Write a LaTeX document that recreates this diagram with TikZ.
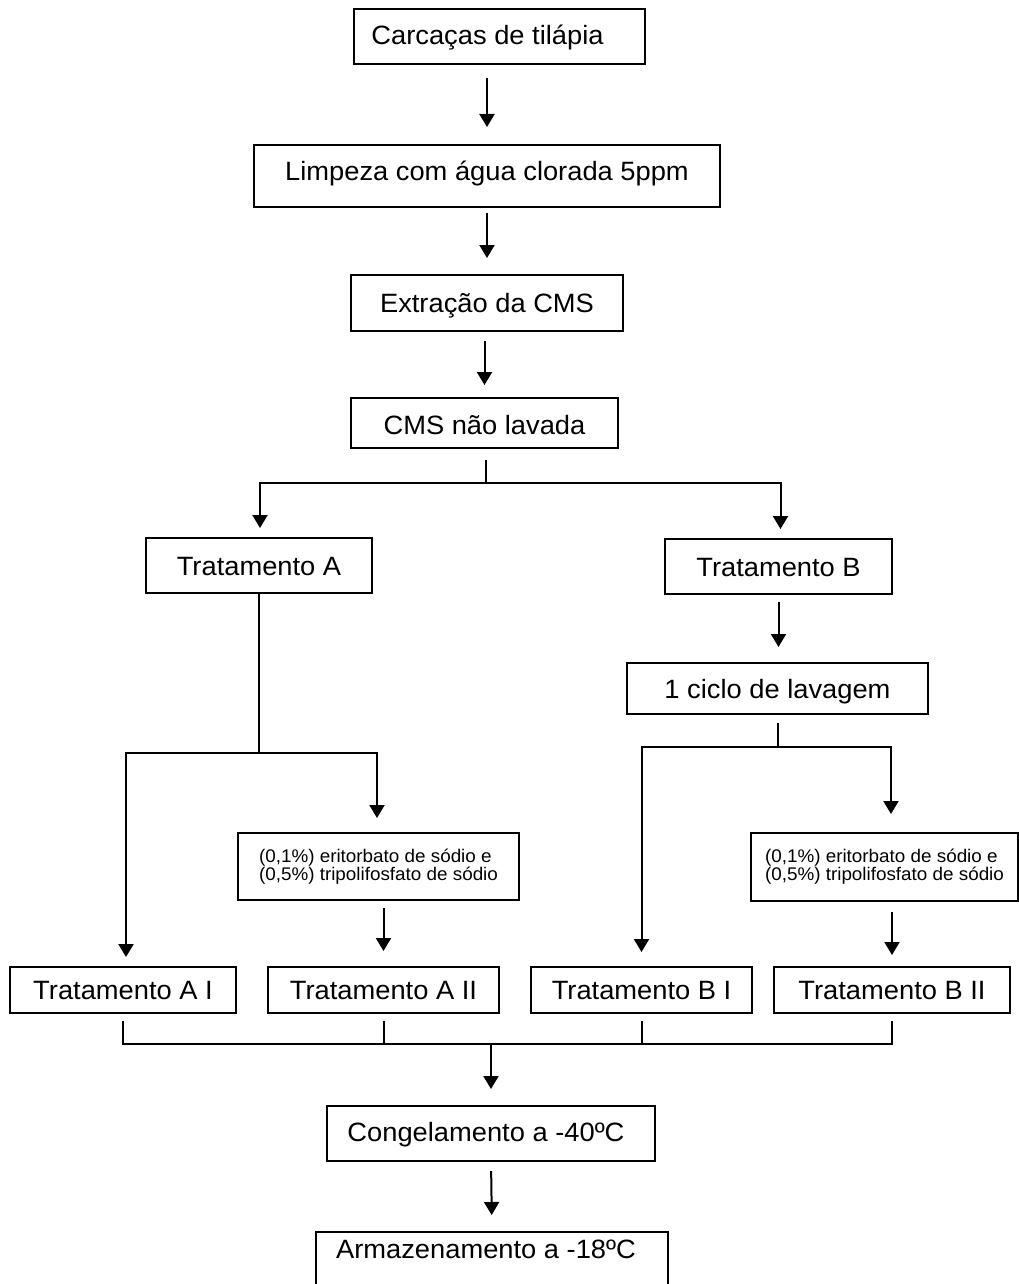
\documentclass[tikz,border=0pt]{standalone}
\usepackage{fontspec}
\setmainfont{Liberation Sans}[FakeStretch=1.03]
\usetikzlibrary{arrows.meta}
\begin{document}
\begin{tikzpicture}[x=1pt,y=-1pt,
  box/.style={draw, line width=2pt, inner sep=0pt, outer sep=0pt,
    font=\fontsize{26.5}{30}\selectfont, text height=19pt, text depth=0pt},
  smallbox/.style={draw, line width=2pt, inner sep=0pt, outer sep=0pt,
    font=\fontsize{18.3}{18}\selectfont, align=left},
  conn/.style={line width=2pt},
  arr/.style={line width=2pt, -{Triangle[width=15pt,length=13pt]}}]
\useasboundingbox (0,0) rectangle (1019,1284);
\clip (0,0) rectangle (1019,1284);

% boxes
\node[box, minimum width=291pt, minimum height=55pt, text height=17pt] (n1) at (499.5,36.5) {Carcaças de tilápia\kern24pt};
\node[box, minimum width=466pt, minimum height=62pt, text height=9pt] (n2) at (487,176) {Limpeza com água clorada 5ppm};
\node[box, minimum width=272pt, minimum height=56pt, text height=18pt] (n3) at (487,303) {Extração da CMS};
\node[box, minimum width=267pt, minimum height=50pt, text height=23pt] (n4) at (484.5,423) {CMS não lavada};
\node[box, minimum width=226pt, minimum height=55pt] (nA) at (259,565.5) {Tratamento A};
\node[box, minimum width=227pt, minimum height=55pt] (nB) at (778.5,566.5) {Tratamento B};
\node[box, minimum width=301pt, minimum height=51pt] (nC) at (777.5,688.5) {1 ciclo de lavagem};
\node[smallbox, minimum width=281pt, minimum height=67pt] (nEA) at (378.5,866.5) {(0,1\%) eritorbato de sódio e\\(0,5\%) tripolifosfato de sódio};
\node[smallbox, minimum width=267pt, minimum height=68pt] (nEB) at (884.5,867) {(0,1\%) eritorbato de sódio e\\(0,5\%) tripolifosfato de sódio};
\node[box, minimum width=226pt, minimum height=46pt] (nAI) at (123,990) {Tratamento A I};
\node[box, minimum width=231pt, minimum height=46pt] (nAII) at (383.5,990) {Tratamento A II};
\node[box, minimum width=221pt, minimum height=46pt] (nBI) at (641.5,990) {Tratamento B I};
\node[box, minimum width=236pt, minimum height=46pt] (nBII) at (892,990) {Tratamento B II};
\node[box, minimum width=328pt, minimum height=55pt, text height=15pt] (nCong) at (491,1133.5) {Congelamento a -40ºC\kern10pt};
\node[box, minimum width=352pt, minimum height=58pt, text height=17pt, text depth=23pt] (nArm) at (492,1261) {Armazenamento a -18ºC\kern12pt};

% junctions
\coordinate (j1) at (486,483);
\coordinate (jA) at (259,753);
\coordinate (jB) at (777.5,747);
\coordinate (jC) at (491,1044);

% connectors
\draw[arr, shorten <=14pt, shorten >=18pt] (n1.south -| n2.north) -- (n2.north);
\draw[arr, shorten <=6pt, shorten >=17pt] (n2.south) -- (n3.north);
\draw[arr, shorten <=10pt, shorten >=13pt] (n3.south -| n4.north) -- (n4.north);

\draw[conn, shorten <=12pt] (n4.south -| j1) -- (j1);
\draw[arr, shorten >=10pt] (j1) -| ([xshift=1pt]nA.north);
\draw[arr, shorten >=10pt] (j1) -| ([xshift=2pt]nB.north);

\draw[conn] (nA.south) -- (jA);
\draw[arr, shorten >=10pt] (jA) -| ([xshift=3pt]nAI.north);
\draw[arr, shorten >=15pt] (jA) -| ([xshift=-1.5pt]nEA.north);

\draw[arr, shorten <=8pt, shorten >=16pt] (nB.south) -- (nC.north -| nB.south);
\draw[conn, shorten <=9pt] (nC.south) -- (jB);
\draw[arr, shorten >=15pt] (jB) -| (nBI.north);
\draw[arr, shorten >=19pt] (jB) -| ([xshift=6.5pt]nEB.north);

\draw[arr, shorten <=8pt, shorten >=16pt] (nEA.south -| nAII.north) -- (nAII.north);
\draw[arr, shorten <=11pt, shorten >=12pt] (nEB.south -| nBII.north) -- (nBII.north);

\draw[conn, shorten <=8pt] (nAI.south) |- (jC);
\draw[conn, shorten <=8pt] (nBII.south) |- (jC);
\draw[conn, shorten <=8pt] (nAII.south) -- (nAII.south |- jC);
\draw[conn, shorten <=8pt] (nBI.south) -- (nBI.south |- jC);
\draw[arr, shorten >=17pt] (jC) -- (nCong.north);
\draw[arr, shorten <=10pt, shorten >=17pt] (nCong.south) -- (nArm.north);
\end{tikzpicture}
\end{document}
